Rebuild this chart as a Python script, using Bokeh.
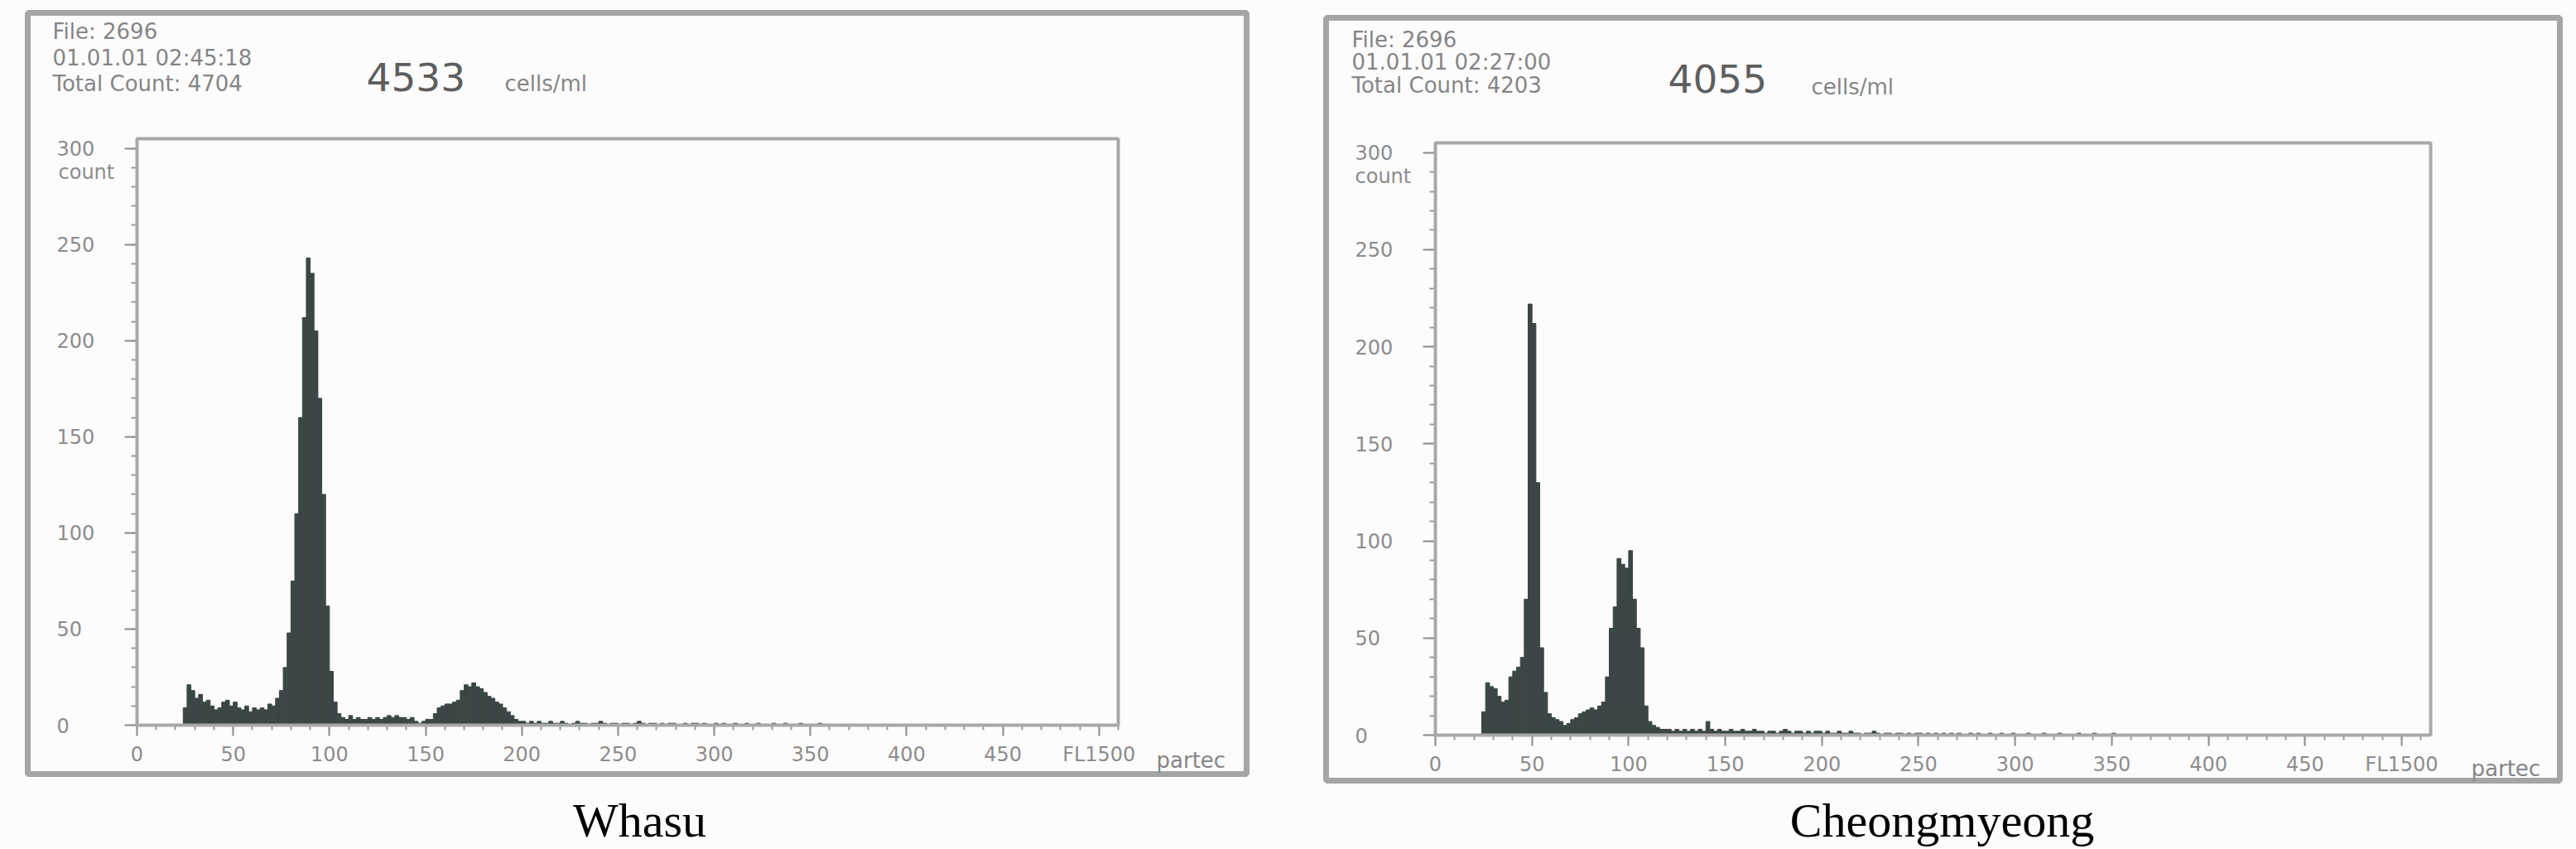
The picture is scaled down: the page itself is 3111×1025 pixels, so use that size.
from bokeh.plotting import figure
from bokeh.layouts import row
from bokeh.models import Range1d, FixedTicker, Label, BoxAnnotation, ColumnDataSource
from bokeh.embed import file_html
from bokeh.resources import INLINE

# ---------------- data ----------------
bin_width = 2
first_bin = 24

# Whasu histogram counts, one value per 2-channel bin starting at channel 24
whasu_counts = [
    9, 21, 18, 14, 16, 12, 13, 10, 8, 9, 12, 13, 10, 12, 9, 8, 10, 7, 9, 8, 9, 8, 11, 10,          # 24-70
    14, 18, 30, 48, 75, 110, 160, 212, 243, 235, 205, 170, 120, 62, 28, 12, 6, 4, 3, 5, 3, 4, 3, 3,  # 72-118
    4, 3, 4, 3, 4, 5, 4, 5, 4, 4, 3, 4, 2, 1, 2, 3, 3, 6, 9, 10, 11, 11, 12, 13,                  # 120-166
    18, 21, 20, 22, 20, 19, 17, 15, 14, 12, 11, 9, 7, 5, 3, 2, 2, 1, 2, 1, 2, 1, 1, 2,             # 168-214
    1, 1, 2, 1, 0, 1, 2, 1, 1, 0, 1, 1, 2, 1, 0, 1, 1, 0, 1, 1, 0, 1, 2, 1,                        # 216-262
    0, 1, 1, 0, 1, 0, 1, 1, 0, 0, 1, 0, 1, 1, 0, 1, 0, 0, 1, 0, 1, 0, 0, 1,                        # 264-310
    0, 0, 1, 0, 0, 1, 0, 0, 0, 1, 0, 0, 1, 0, 0, 0, 1, 0, 0, 0, 0, 1, 0, 0,                        # 312-358
]

# Cheongmyeong histogram counts, same binning
cheong_counts = [
    12, 27, 25, 24, 20, 17, 18, 30, 33, 35, 40, 70, 222, 212, 130, 45, 22, 11, 9, 8, 7, 5, 6, 8,   # 24-70
    9, 11, 12, 13, 14, 13, 15, 17, 30, 55, 66, 91, 88, 86, 95, 70, 55, 45, 15, 7, 5, 4, 3, 3,     # 72-118
    3, 2, 3, 2, 3, 2, 3, 2, 3, 2, 7, 3, 2, 3, 2, 2, 3, 2, 2, 3, 2, 2, 3, 2,                        # 120-166
    2, 1, 2, 2, 1, 2, 3, 2, 1, 2, 2, 1, 2, 1, 2, 2, 1, 2, 1, 1, 2, 1, 1, 2,                        # 168-214
    1, 1, 0, 1, 1, 2, 1, 0, 1, 1, 0, 1, 1, 0, 1, 0, 1, 1, 0, 1, 0, 1, 0, 1,                        # 216-262
    0, 1, 0, 1, 0, 0, 1, 0, 1, 0, 0, 1, 0, 0, 1, 0, 0, 1, 0, 0, 0, 1, 0, 0,                        # 264-310
    0, 1, 0, 0, 0, 1, 0, 0, 0, 0, 1, 0, 0, 0, 1, 0, 0, 0, 0, 1, 0, 0, 0, 0,                        # 312-358
]

x_major_ticks = [0, 50, 100, 150, 200, 250, 300, 350, 400, 450, 500]
x_minor_ticks = list(range(0, 511, 10))
x_tick_overrides = {500: "FL1500"}
y_major_ticks = [0, 50, 100, 150, 200, 250, 300]
y_minor_ticks = list(range(0, 301, 10))
y_tick_labels = ["0", "50", "100", "150", "200", "250", "300"]

whasu_header = ["File: 2696", "01.01.01  02:45:18", "Total Count:  4704"]
cheong_header = ["File: 2696", "01.01.01  02:27:00", "Total Count:  4203"]
whasu_conc = "4533"
cheong_conc = "4055"
unit_text = "cells/ml"
brand_text = "partec"
y_unit_text = "count"
captions = ["Whasu", "Cheongmyeong"]

# ---------------- layout (page pixels) ----------------
PAGE_TOP = 0
CANVAS_H = 1024
FONT = "DejaVu Sans"

panels = [
    dict(counts=whasu_counts, header=whasu_header, conc=whasu_conc, caption=captions[0],
         cx0=0, cw=1590, L=165, T=167, fw=1185, fh=708, xmax=510, ymax=305,
         hx=63, hy=[37, 69, 100], nx=442, ny=92, ux=609, uy=100, cntx=70, cnty=207,
         tlx=68, px=1396, py=917, capx=772, capy=990, frame=(33, 15, 1505, 934)),
    dict(counts=cheong_counts, header=cheong_header, conc=cheong_conc, caption=captions[1],
         cx0=1590, cw=1521, L=1733, T=172, fw=1202, fh=715, xmax=515, ymax=305,
         hx=1632, hy=[47, 74, 102], nx=2014, ny=94, ux=2187, uy=104, cntx=1636, cnty=212,
         tlx=1636, px=2984, py=927, capx=2345, capy=990, frame=(1601, 21, 3091, 942)),
]


def make_panel(g):
    L, T, fw, fh = g["L"], g["T"], g["fw"], g["fh"]
    xs = fw / g["xmax"]
    ys = fh / g["ymax"]

    def dx(px):
        return (px - L) / xs

    def dy(py):
        return (T + fh - py) / ys

    # the frame fills the whole canvas; the instrument plot area is the 0..xmax x 0..ymax box
    p = figure(
        output_backend="svg", toolbar_location=None,
        width=g["cw"], height=CANVAS_H,
        min_border_left=0, min_border_right=0, min_border_top=0, min_border_bottom=0,
        x_range=Range1d(dx(g["cx0"]), dx(g["cx0"] + g["cw"])),
        y_range=Range1d(dy(PAGE_TOP + CANVAS_H), dy(PAGE_TOP)),
    )
    p.background_fill_color = "#fcfcfd"
    p.border_fill_color = "#fcfcfd"
    p.outline_line_color = None
    p.xgrid.visible = False
    p.ygrid.visible = False

    counts = g["counts"]
    lefts = [first_bin + i * bin_width for i in range(len(counts))]
    src = ColumnDataSource(dict(left=lefts, right=[v + bin_width for v in lefts], top=counts))
    p.quad(left="left", right="right", top="top", bottom=0, source=src,
           fill_color="#3b4645", line_color="#3b4645", line_width=1)

    # x axis drawn at count = 0
    xa = p.xaxis[0]
    xa.fixed_location = 0
    xa.bounds = (0, g["xmax"])
    xa.ticker = FixedTicker(ticks=x_major_ticks, minor_ticks=x_minor_ticks)
    xa.major_label_overrides = x_tick_overrides
    xa.axis_line_color = "#8a8a8a"
    xa.axis_line_width = 2
    xa.major_tick_line_color = "#8a8a8a"
    xa.major_tick_line_width = 2
    xa.major_tick_in = 0
    xa.major_tick_out = 13
    xa.minor_tick_line_color = "#9a9a9a"
    xa.minor_tick_line_width = 2
    xa.minor_tick_in = 0
    xa.minor_tick_out = 6
    xa.major_label_standoff = 8
    xa.major_label_text_font = FONT
    xa.major_label_text_font_size = "24px"
    xa.major_label_text_color = "#8c8c8c"

    # y axis drawn at channel = 0 (its labels are drawn left-aligned below)
    ya = p.yaxis[0]
    ya.fixed_location = 0
    ya.bounds = (0, g["ymax"])
    ya.ticker = FixedTicker(ticks=y_major_ticks, minor_ticks=y_minor_ticks)
    ya.axis_line_color = "#8a8a8a"
    ya.axis_line_width = 2
    ya.major_tick_line_color = "#8a8a8a"
    ya.major_tick_line_width = 2
    ya.major_tick_in = 0
    ya.major_tick_out = 15
    ya.minor_tick_line_color = "#9a9a9a"
    ya.minor_tick_line_width = 2
    ya.minor_tick_in = 0
    ya.minor_tick_out = 7
    ya.major_label_text_color = None

    # plot-area border
    p.add_layout(BoxAnnotation(left=0, right=g["xmax"], bottom=0, top=g["ymax"],
                               fill_color=None, line_color="#a8a8a8", line_width=4,
                               line_alpha=1.0))
    # outer instrument frame
    fl, ft, fr, fb = g["frame"]
    p.add_layout(BoxAnnotation(left=dx(fl), right=dx(fr), top=dy(ft), bottom=dy(fb),
                               fill_color=None, line_color="#a5a5a5", line_width=7,
                               line_alpha=1.0))

    for v, t in zip(y_major_ticks, y_tick_labels):
        p.add_layout(Label(x=dx(g["tlx"]), y=v, text=t, text_font=FONT, text_font_size="24px",
                           text_color="#8c8c8c", text_align="left", text_baseline="middle"))
    p.add_layout(Label(x=dx(g["cntx"]), y=dy(g["cnty"]), text=y_unit_text, text_font=FONT,
                       text_font_size="24px", text_color="#8c8c8c", text_align="left",
                       text_baseline="middle"))

    # header
    for line, yy in zip(g["header"], g["hy"]):
        p.add_layout(Label(x=dx(g["hx"]), y=dy(yy), text=line, text_font=FONT,
                           text_font_size="26px", text_color="#858585", text_align="left",
                           text_baseline="middle"))
    p.add_layout(Label(x=dx(g["nx"]), y=dy(g["ny"]), text=g["conc"], text_font=FONT,
                       text_font_size="47px", text_color="#5e5e5e", text_align="left",
                       text_baseline="middle"))
    p.add_layout(Label(x=dx(g["ux"]), y=dy(g["uy"]), text=unit_text, text_font=FONT,
                       text_font_size="26px", text_color="#858585", text_align="left",
                       text_baseline="middle"))
    p.add_layout(Label(x=dx(g["px"]), y=dy(g["py"]), text=brand_text, text_font=FONT,
                       text_font_size="26px", text_color="#858585", text_align="left",
                       text_baseline="middle"))

    # caption
    p.add_layout(Label(x=dx(g["capx"]), y=dy(g["capy"]), text=g["caption"],
                       text_font="Liberation Serif", text_font_size="58px",
                       text_color="#000000", text_align="center", text_baseline="middle"))
    return p


figs = [make_panel(g) for g in panels]
layout = row(*figs)
open("out.html", "w").write(file_html(layout, INLINE))
